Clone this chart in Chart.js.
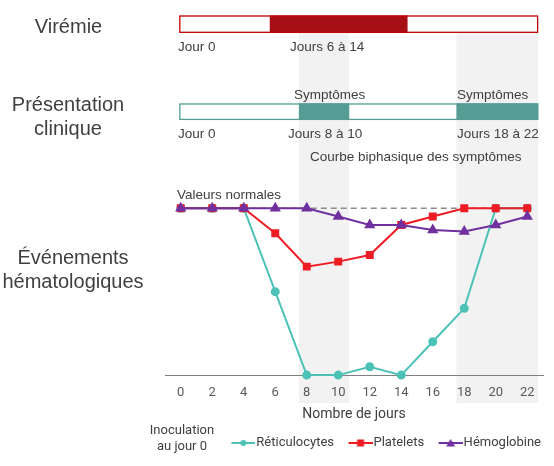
<!DOCTYPE html>
<html><head><meta charset="utf-8">
<script src="https://cdn.jsdelivr.net/npm/chart.js@4.4.1/dist/chart.umd.min.js"></script>
<style>html,body{margin:0;padding:0;background:#fff;}#wrap{width:554px;height:466px;}</style>
</head><body><div id="wrap"><canvas id="c" width="554" height="466"></canvas></div>
<script>
// ---- data ----
const days = [0, 2, 4, 6, 8, 10, 12, 14, 16, 18, 20, 22];
const reticulocytes = [100, 100, 100, 50, 0, 0, 5, 0, 20, 40, 100, 100];
const platelets = [100, 100, 100, 85, 65, 68, 72, 90, 95, 100, 100, 100];
const hemoglobine = [100, 100, 100, 100, 100, 95, 90, 90, 87, 86, 90, 95];
const normalValues = [100, 100, 100, 100, 100, 100, 100, 100, 100, 100, 100, 100];
const seriesNames = ['Réticulocytes', 'Platelets', 'Hémoglobine'];
const timelineSpan = [-0.1, 22.7];
const viremiaSpan = [5.65, 14.4];
const symptomSpans = [[7.5, 10.7], [17.5, 22.7]];
const rowTitles = [['Virémie'], ['Présentation', 'clinique'], ['Événements', 'hématologiques']];
const viremiaLabels = ['Jour 0', 'Jours 6 à 14'];
const clinicLabels = ['Jour 0', 'Jours 8 à 10', 'Jours 18 à 22'];
const symptomLabel = 'Symptômes';
const biphasicLabel = 'Courbe biphasique des symptômes';
const normalLabel = 'Valeurs normales';
const inoculationLabel = ['Inoculation', 'au jour 0'];
const axisTitle = 'Nombre de jours';

const TEAL = '#4CC2B7', RED = '#EE1C25', PURPLE = '#7030A0';
const TXT = '#404040';
const SANS = '"Liberation Sans", Arial, sans-serif';
const UI = 'Roboto, "Open Sans", sans-serif';

function toPts(arr) { return days.map((d, i) => ({ x: d, y: arr[i] })); }

function legendImg(color, style) {
  const c = document.createElement('canvas');
  c.width = 42; c.height = 10;
  const g = c.getContext('2d');
  const o = 18; // line occupies the right 24px
  g.strokeStyle = color; g.lineWidth = 2;
  g.beginPath(); g.moveTo(o, 5); g.lineTo(o + 24, 5); g.stroke();
  g.fillStyle = color;
  if (style === 'circle') { g.beginPath(); g.arc(o + 12, 5, 3, 0, Math.PI * 2); g.fill(); }
  else if (style === 'rect') { g.fillRect(o + 8.5, 1.5, 7, 7); }
  else { g.beginPath(); g.moveTo(o + 12, 1); g.lineTo(o + 16.5, 8.5); g.lineTo(o + 7.5, 8.5); g.closePath(); g.fill(); }
  return c;
}
const legendImgs = [legendImg(TEAL, 'circle'), legendImg(RED, 'rect'), legendImg(PURPLE, 'triangle')];

const annot = {
  id: 'annot',
  beforeDraw(chart) {
    const { ctx, scales: { x } } = chart;
    const px = v => x.getPixelForValue(v);
    ctx.save();
    // symptom bands
    ctx.fillStyle = '#F2F2F2';
    symptomSpans.forEach(([a, b]) => ctx.fillRect(px(a), 33, px(b) - px(a), 370));
    // viremia bar
    const t0 = px(timelineSpan[0]), t1 = px(timelineSpan[1]);
    ctx.fillStyle = '#fff'; ctx.fillRect(t0, 15.5, t1 - t0, 17);
    ctx.fillStyle = '#A50F15'; ctx.fillRect(px(viremiaSpan[0]), 15.5, px(viremiaSpan[1]) - px(viremiaSpan[0]), 17);
    ctx.strokeStyle = '#C00000'; ctx.lineWidth = 1.3; ctx.strokeRect(t0 + 0.65, 16, t1 - t0 - 1.3, 16.3);
    // clinical bar
    ctx.fillStyle = '#fff'; ctx.fillRect(t0, 103.3, t1 - t0, 16.7);
    ctx.fillStyle = '#559C94';
    symptomSpans.forEach(([a, b]) => ctx.fillRect(px(a), 103.3, px(b) - px(a), 16.7));
    ctx.strokeStyle = '#559C94'; ctx.lineWidth = 1.3; ctx.strokeRect(t0 + 0.65, 104, t1 - t0 - 1.3, 15.4);

    // texts
    ctx.fillStyle = TXT; ctx.textBaseline = 'middle';
    ctx.font = '20px ' + SANS; ctx.textAlign = 'center';
    ctx.fillText(rowTitles[0][0], 68.5, 27);
    ctx.fillText(rowTitles[1][0], 68, 105); ctx.fillText(rowTitles[1][1], 68, 129);
    ctx.fillText(rowTitles[2][0], 73, 258); ctx.fillText(rowTitles[2][1], 73, 282);
    ctx.font = '13.5px ' + SANS; ctx.textAlign = 'left';
    ctx.fillText(viremiaLabels[0], 178, 47);
    ctx.fillText(viremiaLabels[1], 290, 47);
    ctx.fillText(symptomLabel, 294, 95);
    ctx.fillText(symptomLabel, 457, 95);
    ctx.fillText(clinicLabels[0], 178, 134);
    ctx.fillText(clinicLabels[1], 288, 134);
    ctx.fillText(clinicLabels[2], 457, 134);
    ctx.fillText(biphasicLabel, 310, 157);
    ctx.fillText(normalLabel, 177, 195);
    ctx.font = '13px ' + UI; ctx.textAlign = 'center';
    ctx.fillText(inoculationLabel[0], 182, 431);
    ctx.fillText(inoculationLabel[1], 182, 447);
    ctx.restore();
  }
};

const common = { borderWidth: 2, clip: false, tension: 0 };
new Chart(document.getElementById('c'), {
  type: 'line',
  data: {
    datasets: [
      Object.assign({ label: seriesNames[0], data: toPts(reticulocytes), borderColor: TEAL, backgroundColor: TEAL, pointStyle: 'circle', pointRadius: 3.5, order: 3 }, common),
      Object.assign({ label: seriesNames[1], data: toPts(platelets), borderColor: RED, backgroundColor: RED, pointStyle: 'rect', pointRadius: 4.2, order: 2 }, common),
      Object.assign({ label: seriesNames[2], data: toPts(hemoglobine), borderColor: PURPLE, backgroundColor: PURPLE, pointStyle: 'triangle', pointRadius: 4.5, order: 1 }, common),
      { label: 'normal', data: toPts(normalValues), borderColor: '#8C8C8C', borderWidth: 1.5, borderDash: [6, 4], pointRadius: 0, order: 4, clip: false }
    ]
  },
  options: {
    responsive: false, animation: false, devicePixelRatio: 1,
    layout: { padding: { top: 8, left: 165, right: 11, bottom: 6.5 } },
    scales: {
      x: {
        type: 'linear', min: -1, max: 23,
        afterBuildTicks: s => { s.ticks = days.map(v => ({ value: v })); },
        grid: { display: false, drawTicks: false },
        border: { display: true, color: '#808080', width: 1 },
        ticks: { padding: 10, color: '#595959', font: { family: UI, size: 13 } },
        title: { display: true, text: axisTitle, color: TXT, font: { family: UI, size: 14 }, padding: { top: -5, bottom: 12 } }
      },
      y: { display: false, min: 0, max: 220 }
    },
    plugins: {
      tooltip: { enabled: false },
      legend: {
        position: 'bottom', align: 'end',
        labels: {
          usePointStyle: true, pointStyleWidth: 31, padding: 2, color: TXT,
          font: { family: UI, size: 13 },
          filter: item => item.text !== 'normal',
          sort: (a, b) => a.datasetIndex - b.datasetIndex,
          generateLabels: chart => {
            const base = Chart.defaults.plugins.legend.labels.generateLabels(chart);
            return base.map(l => { if (l.datasetIndex < 3) l.pointStyle = legendImgs[l.datasetIndex]; return l; });
          }
        }
      }
    }
  },
  plugins: [annot]
});
</script></body></html>
